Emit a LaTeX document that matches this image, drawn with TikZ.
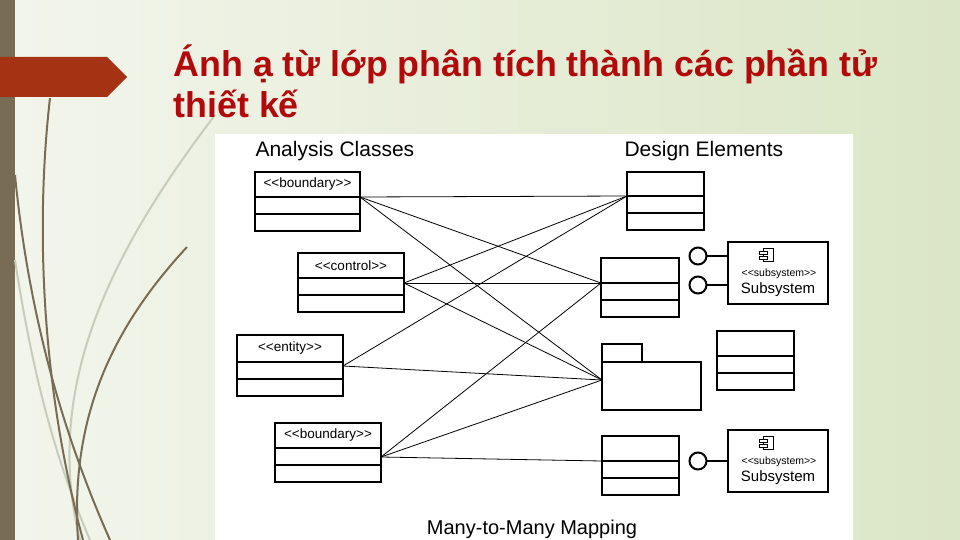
\documentclass[tikz,border=0pt]{standalone}
\usepackage{fontspec}
\setmainfont{Liberation Sans}
\usetikzlibrary{calc}

\definecolor{barbrown}{RGB}{120,109,84}
\definecolor{arrowred}{RGB}{166,50,20}
\definecolor{titlered}{RGB}{178,10,10}
\definecolor{bgleft}{RGB}{243,245,236}
\definecolor{bgright}{RGB}{219,230,198}
\definecolor{stemgray}{RGB}{200,204,186}

\begin{document}
\begin{tikzpicture}
[ x=1pt, y=-1pt,
chead/.style={draw, line width=2pt, anchor=north west, inner sep=0pt,
 outer sep=0pt, minimum height=25pt, font=\fontsize{13.5}{15}\selectfont},
ccomp/.style={draw, line width=2pt, anchor=north west, inner sep=0pt,
 outer sep=0pt, minimum height=17pt},
subsys/.style={draw, line width=2pt, anchor=north west, inner sep=0pt,
 outer sep=0pt, minimum width=100pt, minimum height=62pt},
iface/.style={circle, draw, line width=2pt, fill=white, minimum size=17pt,
 inner sep=0pt, outer sep=0pt},
heading/.style={anchor=base west, font=\fontsize{21}{24}\selectfont},
map/.style={line width=0.8pt},
stem/.style={line width=2pt, barbrown},
lightstem/.style={line width=2pt, stemgray},
]
\useasboundingbox (0,0) rectangle (960,540);
\shade[left color=bgleft, right color=bgright] (0,0) rectangle (960,540);

% decoration on the left
\fill[barbrown] (0,0) rectangle (15,540);
\draw[lightstem] (215,115) .. controls (120,240) and (40,380) .. (80,540);
\draw[lightstem] (15,260) .. controls (35,390) and (60,470) .. (90,540);
\draw[stem] (50,98) .. controls (36,220) and (40,380) .. (83,540);
\draw[stem] (15,175) .. controls (30,330) and (70,450) .. (110,540);
\draw[stem] (187,247) .. controls (110,330) and (70,420) .. (78,540);
\fill[arrowred] (0,57) -- (107,57) -- (127,77) -- (107,97) -- (0,97) -- cycle;

% title
\node[anchor=base west, text=titlered, font=\bfseries\fontsize{35.8}{40}\selectfont]
 (title1) at (170,77) {Ánh ạ từ lớp phân tích thành các phần tử};
\node[anchor=base west, text=titlered, font=\bfseries\fontsize{35.8}{40}\selectfont]
 (title2) at (170,118) {thiết kế};

% white panel
\fill[white] (215,134) rectangle (853,540);
\node[heading] (ahead) at (252,157) {Analysis Classes};
\node[heading] (dhead) at (621,157) {Design Elements};
\node[anchor=base, font=\fontsize{20}{24}\selectfont] (caption) at (532,534)
 {Many-to-Many Mapping};

% analysis classes
\node[chead, minimum width=105pt] (b1) at (255,172) {<{}<boundary>{}>};
\node[ccomp, minimum width=105pt] (b1x) at (b1.south west) {};
\node[ccomp, minimum width=105pt] (b1y) at (b1x.south west) {};

\node[chead, minimum width=106pt] (ct) at (298,253) {<{}<control>{}>};
\node[ccomp, minimum width=106pt] (ctx) at (ct.south west) {};
\node[ccomp, minimum width=106pt] (cty) at (ctx.south west) {};

\node[chead, minimum width=106pt, minimum height=27pt] (en) at (237,335) {<{}<entity>{}>};
\node[ccomp, minimum width=106pt] (enx) at (en.south west) {};
\node[ccomp, minimum width=106pt] (eny) at (enx.south west) {};

\node[chead, minimum width=106pt] (b2) at (275,423) {<{}<boundary>{}>};
\node[ccomp, minimum width=106pt] (b2x) at (b2.south west) {};
\node[ccomp, minimum width=106pt] (b2y) at (b2x.south west) {};

% design elements
\node[chead, minimum width=77pt, minimum height=24pt] (d1) at (627,172) {};
\node[ccomp, minimum width=77pt] (d1x) at (d1.south west) {};
\node[ccomp, minimum width=77pt] (d1y) at (d1x.south west) {};

\node[chead, minimum width=78pt] (d2) at (601,258) {};
\node[ccomp, minimum width=78pt] (d2x) at (d2.south west) {};
\node[ccomp, minimum width=78pt] (d2y) at (d2x.south west) {};

\node[ccomp, minimum width=40pt, minimum height=18pt] (pkgtab) at (602,344) {};
\node[ccomp, minimum width=99pt, minimum height=48pt] (pkg) at (pkgtab.south west) {};

\node[chead, minimum width=77pt] (d4) at (717,331) {};
\node[ccomp, minimum width=77pt] (d4x) at (d4.south west) {};
\node[ccomp, minimum width=77pt] (d4y) at (d4x.south west) {};

\node[chead, minimum width=77pt] (d5) at (602,436) {};
\node[ccomp, minimum width=77pt] (d5x) at (d5.south west) {};
\node[ccomp, minimum width=77pt] (d5y) at (d5x.south west) {};

% subsystems
\foreach \n/\y in {1/242,2/430}{
  \node[subsys] (sub\n) at (728,\y) {};
  \draw[line width=0.9pt] (763,\y+6) rectangle (773,\y+19);
  \draw[line width=0.9pt, fill=white] (759,\y+9) rectangle (767,\y+12);
  \draw[line width=0.9pt, fill=white] (759,\y+14) rectangle (767,\y+17);
  \node[font=\fontsize{10.5}{11}\selectfont] (sub\n st) at (779,\y+32) {<{}<subsystem>{}>};
  \node[font=\fontsize{15}{16}\selectfont] (sub\n nm) at (778,\y+48) {Subsystem};
}
\node[iface] (i1) at (698,256) {};
\node[iface] (i2) at (698,285) {};
\node[iface] (i3) at (698,461) {};
\draw[line width=2pt] (i1) -- (i1 -| sub1.west);
\draw[line width=2pt] (i2) -- (i2 -| sub1.west);
\draw[line width=2pt] (i3) -- (i3 -| sub2.west);

% mapping
\coordinate (b1p) at (b1x.north east);
\coordinate (ctp) at ([yshift=-5pt]ctx.north east);
\coordinate (enp) at ([yshift=-4pt]enx.north east);
\coordinate (b2p) at ([yshift=-9pt]b2x.north east);
\coordinate (pkgp) at ([yshift=-18pt]pkg.north west);
\draw[map] (b1p) -- (d1x.north west);
\draw[map] (b1p) -- (d2x.north west);
\draw[map] (b1p) -- (pkgp);
\draw[map] (ctp) -- (d1x.north west);
\draw[map] (ctp) -- (d2x.north west);
\draw[map] (ctp) -- (pkgp);
\draw[map] (enp) -- (d1x.north west);
\draw[map] (enp) -- (pkgp);
\draw[map] (b2p) -- (d2x.north west);
\draw[map] (b2p) -- (pkgp);
\draw[map] (b2p) -- (d5x.north west);
\end{tikzpicture}
\end{document}
